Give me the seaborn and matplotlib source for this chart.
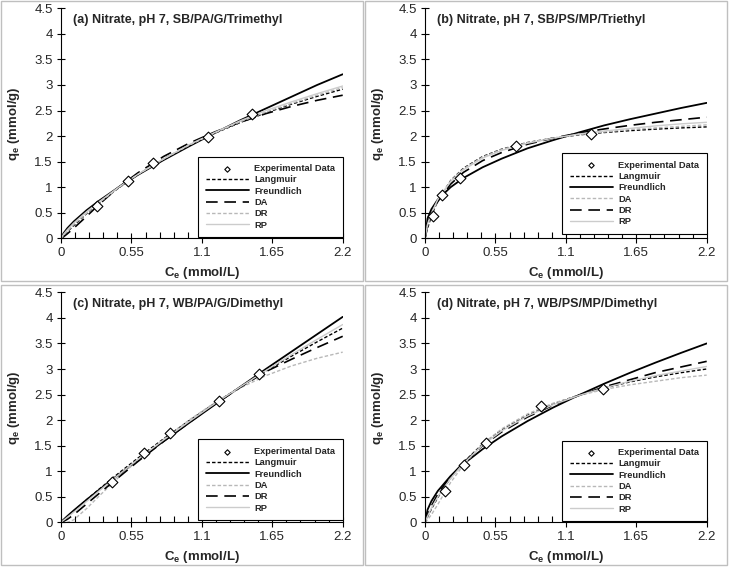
import matplotlib
matplotlib.use('Agg')
import matplotlib.pyplot as plt
from matplotlib.patches import Rectangle
from matplotlib.ticker import FuncFormatter, MultipleLocator
import seaborn as sns
import pandas as pd
import numpy as np

sns.set_style('ticks')
plt.rcParams['font.family'] = ['Liberation Sans', 'DejaVu Sans']
plt.rcParams['mathtext.fontset'] = 'custom'
plt.rcParams['mathtext.bf'] = 'Liberation Sans:bold'
plt.rcParams['mathtext.rm'] = 'Liberation Sans'

ce_fit = [0, 0.02, 0.05, 0.1, 0.2, 0.3, 0.45, 0.6, 0.8, 1.0, 1.2, 1.4, 1.6, 1.8, 2.0, 2.2]

# (a) SB/PA/G/Trimethyl
a_exp_ce = [0.279, 0.523, 0.721, 1.151, 1.495]
a_exp_qe = [0.64, 1.13, 1.48, 1.99, 2.43]
a_langmuir = [0, 0.052, 0.129, 0.252, 0.483, 0.696, 0.986, 1.245, 1.550, 1.818, 2.055, 2.266, 2.454, 2.625, 2.778, 2.918]
a_freundlich = [0, 0.10, 0.20, 0.33, 0.55, 0.74, 1.00, 1.24, 1.53, 1.80, 2.06, 2.31, 2.54, 2.77, 3.00, 3.21]
a_da = [0, 0.03, 0.09, 0.20, 0.43, 0.67, 1.00, 1.28, 1.60, 1.86, 2.08, 2.27, 2.44, 2.58, 2.70, 2.80]
a_dr = [0, 0.06, 0.14, 0.27, 0.49, 0.70, 0.99, 1.25, 1.55, 1.82, 2.06, 2.28, 2.47, 2.64, 2.80, 2.95]
a_rp = [0, 0.08, 0.17, 0.30, 0.52, 0.72, 1.00, 1.25, 1.55, 1.83, 2.07, 2.30, 2.50, 2.67, 2.83, 2.98]

# (b) SB/PS/MP/Triethyl
b_exp_ce = [0.060, 0.135, 0.276, 0.708, 1.294]
b_exp_qe = [0.44, 0.85, 1.18, 1.81, 2.04]
b_langmuir = [0, 0.195, 0.436, 0.737, 1.129, 1.371, 1.600, 1.746, 1.874, 1.961, 2.023, 2.070, 2.106, 2.136, 2.160, 2.180]
b_freundlich = [0, 0.39, 0.57, 0.76, 1.00, 1.18, 1.39, 1.56, 1.76, 1.92, 2.07, 2.21, 2.33, 2.44, 2.55, 2.65]
b_da = [0, 0.25, 0.47, 0.75, 1.12, 1.36, 1.59, 1.74, 1.87, 1.96, 2.03, 2.08, 2.13, 2.16, 2.19, 2.22]
b_dr = [0, 0.30, 0.50, 0.72, 1.06, 1.29, 1.52, 1.68, 1.84, 1.96, 2.06, 2.14, 2.21, 2.27, 2.32, 2.37]
b_rp = [0, 0.28, 0.49, 0.76, 1.11, 1.34, 1.57, 1.72, 1.86, 1.96, 2.04, 2.10, 2.15, 2.20, 2.24, 2.27]

# (c) WB/PA/G/Dimethyl
c_exp_ce = [0.398, 0.648, 0.852, 1.232, 1.549]
c_exp_qe = [0.79, 1.35, 1.74, 2.38, 2.91]
c_langmuir = [0, 0.045, 0.113, 0.224, 0.442, 0.654, 0.961, 1.256, 1.632, 1.989, 2.327, 2.650, 2.958, 3.251, 3.531, 3.80]
c_freundlich = [0, 0.053, 0.124, 0.234, 0.443, 0.642, 0.933, 1.216, 1.584, 1.945, 2.30, 2.65, 3.00, 3.34, 3.68, 4.02]
c_da = [0, 0.0, 0.0, 0.05, 0.27, 0.52, 0.88, 1.21, 1.62, 2.00, 2.34, 2.63, 2.87, 3.06, 3.21, 3.33]
c_dr = [0, 0.02, 0.06, 0.15, 0.36, 0.57, 0.88, 1.19, 1.58, 1.95, 2.31, 2.64, 2.95, 3.19, 3.42, 3.64]
c_rp = [0, 0.04, 0.10, 0.20, 0.41, 0.62, 0.93, 1.23, 1.61, 1.97, 2.32, 2.65, 2.97, 3.28, 3.58, 3.87]

# (d) WB/PS/MP/Dimethyl
d_exp_ce = [0.156, 0.307, 0.474, 0.906, 1.393]
d_exp_qe = [0.62, 1.13, 1.55, 2.27, 2.60]
d_langmuir = [0, 0.108, 0.259, 0.486, 0.867, 1.172, 1.533, 1.811, 2.097, 2.316, 2.489, 2.630, 2.747, 2.845, 2.928, 3.00]
d_freundlich = [0, 0.248, 0.415, 0.614, 0.907, 1.14, 1.432, 1.684, 1.98, 2.245, 2.487, 2.713, 2.925, 3.125, 3.316, 3.50]
d_da = [0, 0.05, 0.15, 0.35, 0.78, 1.12, 1.53, 1.83, 2.12, 2.33, 2.48, 2.60, 2.69, 2.76, 2.83, 2.88]
d_dr = [0, 0.15, 0.32, 0.55, 0.90, 1.17, 1.50, 1.77, 2.06, 2.29, 2.48, 2.65, 2.79, 2.93, 3.04, 3.15]
d_rp = [0, 0.12, 0.28, 0.50, 0.86, 1.15, 1.51, 1.79, 2.08, 2.30, 2.48, 2.63, 2.76, 2.87, 2.96, 3.05]

titles = ['(a) Nitrate, pH 7, SB/PA/G/Trimethyl',
          '(b) Nitrate, pH 7, SB/PS/MP/Triethyl',
          '(c) Nitrate, pH 7, WB/PA/G/Dimethyl',
          '(d) Nitrate, pH 7, WB/PS/MP/Dimethyl']

panels = [
    (a_exp_ce, a_exp_qe, a_langmuir, a_freundlich, a_da, a_dr, a_rp),
    (b_exp_ce, b_exp_qe, b_langmuir, b_freundlich, b_da, b_dr, b_rp),
    (c_exp_ce, c_exp_qe, c_langmuir, c_freundlich, c_da, c_dr, c_rp),
    (d_exp_ce, d_exp_qe, d_langmuir, d_freundlich, d_da, d_dr, d_rp),
]

# line styles
short_dash = dict(color='black', linestyle=(0, (2.5, 1.5)), linewidth=1.0)
solid_black = dict(color='black', linestyle='-', linewidth=1.3)
long_dash = dict(color='black', linestyle=(0, (7, 4)), linewidth=1.2)
gray_dot = dict(color='#b8b8b8', linestyle=(0, (2.5, 1.5)), linewidth=1.0)
gray_solid = dict(color='#cccccc', linestyle='-', linewidth=1.0)

# DA / DR swap styles between panel (a) and the others
styles_da = [long_dash, gray_dot, gray_dot, gray_dot]
styles_dr = [gray_dot, long_dash, long_dash, long_dash]

# axes positions (left, bottom, width, height) in figure fraction
ax_pos = [(0.0837, 0.5797, 0.3864, 0.4056),
          (0.5830, 0.5797, 0.3864, 0.4056),
          (0.0837, 0.0788, 0.3864, 0.4056),
          (0.5830, 0.0788, 0.3864, 0.4056)]
legend_box = [(1.0, 0.005), (1.0, 0.02), (1.0, 0.01), (1.0, 0.005)]

fig = plt.figure(figsize=(7.29, 5.67), dpi=100)

# panel frames (each panel is its own chart)
for (x0, y0) in [(1, 1), (365, 1), (1, 285), (365, 285)]:
    fig.patches.append(Rectangle((x0 / 729, 1 - (y0 + 280) / 567), 362 / 729, 280 / 567,
                                 transform=fig.transFigure, fill=False,
                                 edgecolor='#bfbfbf', linewidth=1.0))

order = ['Experimental Data', 'Langmuir', 'Freundlich', 'DA', 'DR', 'RP']

for i, (exp_ce, exp_qe, lang, freu, da, dr, rp) in enumerate(panels):
    ax = fig.add_axes(ax_pos[i])
    ax.set_facecolor('white')

    sns.lineplot(x=ce_fit, y=lang, ax=ax, label='Langmuir', sort=False, estimator=None, **short_dash)
    sns.lineplot(x=ce_fit, y=freu, ax=ax, label='Freundlich', sort=False, estimator=None, **solid_black)
    sns.lineplot(x=ce_fit, y=da, ax=ax, label='DA', sort=False, estimator=None, **styles_da[i])
    sns.lineplot(x=ce_fit, y=dr, ax=ax, label='DR', sort=False, estimator=None, **styles_dr[i])
    sns.lineplot(x=ce_fit, y=rp, ax=ax, label='RP', sort=False, estimator=None, **gray_solid)
    sns.scatterplot(x=exp_ce, y=exp_qe, ax=ax, marker='D', s=30, color='white',
                    edgecolor='black', linewidth=0.8, zorder=5, label='Experimental Data')

    ax.set_xlim(0, 2.2)
    ax.set_ylim(0, 4.5)
    ax.set_xticks([0, 0.55, 1.1, 1.65, 2.2])
    ax.xaxis.set_minor_locator(MultipleLocator(0.11))
    ax.set_yticks(np.arange(0, 4.51, 0.5))
    fmt = FuncFormatter(lambda v, p: f'{v:g}')
    ax.xaxis.set_major_formatter(fmt)
    ax.yaxis.set_major_formatter(fmt)
    ax.tick_params(axis='x', which='major', direction='inout', length=7, width=0.8,
                   labelsize=9.5, pad=3, color='black')
    ax.tick_params(axis='x', which='minor', direction='in', length=4, width=0.8, color='black')
    ax.tick_params(axis='y', which='major', direction='inout', length=6, width=0.8,
                   labelsize=9.5, pad=3, color='black')
    sns.despine(ax=ax)
    for sp in ['left', 'bottom']:
        ax.spines[sp].set_color('black')
        ax.spines[sp].set_linewidth(0.8)

    ax.set_xlabel(r'$\mathbf{C_e}$ (mmol/L)', fontsize=9.5, fontweight='bold', labelpad=4)
    ax.set_ylabel(r'$\mathbf{q_e}$ (mmol/g)', fontsize=9.5, fontweight='bold', labelpad=9)

    ax.text(0.094, 4.27, titles[i], fontsize=9, fontweight='bold', ha='left', va='center')

    handles, labels = ax.get_legend_handles_labels()
    hmap = dict(zip(labels, handles))
    leg = ax.legend([hmap[k] for k in order], order, loc='lower right',
                    bbox_to_anchor=legend_box[i], prop={'weight': 'bold', 'size': 6.7},
                    frameon=True, fancybox=False, edgecolor='black', framealpha=1,
                    handlelength=4.6, handletextpad=0.6, labelspacing=0.25,
                    borderpad=0.8, borderaxespad=0, markerscale=0.5)
    leg.get_frame().set_linewidth(0.8)

fig.savefig('out.png', dpi=100)
